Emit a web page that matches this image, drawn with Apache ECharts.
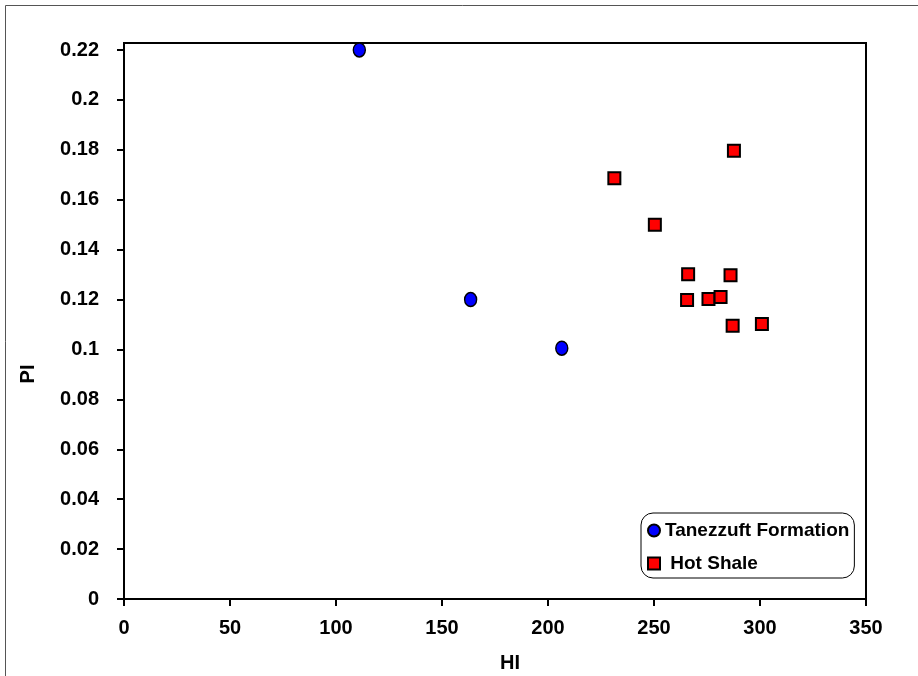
<!DOCTYPE html>
<html>
<head>
<meta charset="utf-8">
<script src="https://cdn.jsdelivr.net/npm/echarts@6/dist/echarts.min.js"></script>
<style>
  html, body { margin: 0; padding: 0; background: #fff; }
  #chart { width: 918px; height: 676px; }
</style>
</head>
<body>
<div id="chart"></div>
<script>
// Tanezzuft Formation (HI, PI)
const tanezzuftHI = [111, 163.5, 206.5]
const tanezzuftPI = [0.22, 0.12, 0.1005]
// Hot Shale (HI, PI)
const hotShaleHI = [287.7, 231.3, 250.4, 266.1, 286.1, 265.6, 275.7, 281.4, 287.1, 300.9]
const hotShalePI = [0.1796, 0.1686, 0.15, 0.1301, 0.1297, 0.1198, 0.1202, 0.121, 0.1095, 0.1102]
// y tick values
const yTicks = [0, 0.02, 0.04, 0.06, 0.08, 0.1, 0.12, 0.14, 0.16, 0.18, 0.2, 0.22]

const font = 'Liberation Sans, Arial, sans-serif'
const zip = (xs, ys) => xs.map((x, i) => [x, ys[i]])

const chart = echarts.init(document.getElementById('chart'))
chart.setOption({
    animation: false,
    grid: {
        left: 124, right: 52, top: 43, bottom: 77,
        show: true, borderColor: '#000', borderWidth: 2
    },
    xAxis: {
        type: 'value',
        min: 0, max: 350, interval: 50,
        splitLine: { show: false },
        axisLine: { lineStyle: { color: '#000', width: 2 } },
        axisTick: { length: 7, lineStyle: { color: '#000', width: 2 } },
        axisLabel: { margin: 19, color: '#000', fontSize: 20, fontWeight: 'bold', fontFamily: font }
    },
    yAxis: {
        type: 'value',
        min: 0, max: 0.2228,
        splitLine: { show: false },
        axisLine: { show: true, lineStyle: { color: '#000', width: 2 } },
        axisTick: { show: true, length: 7, customValues: yTicks, lineStyle: { color: '#000', width: 2 } },
        axisLabel: {
            margin: 25, color: '#000', fontSize: 20, fontWeight: 'bold', fontFamily: font,
            customValues: yTicks,
            formatter: v => String(+v.toFixed(2))
        }
    },
    legend: {
        orient: 'vertical',
        left: 641, top: 513,
        padding: [8, 5, 5, 6],
        itemGap: 14,
        itemWidth: 12, itemHeight: 12,
        borderColor: '#000', borderWidth: 1, borderRadius: 12,
        textStyle: { color: '#000', fontSize: 19, fontWeight: 'bold', fontFamily: font },
        formatter: name => name === 'Hot Shale' ? ' ' + name : name,
        data: [
            { name: 'Tanezzuft Formation', icon: 'circle' },
            { name: 'Hot Shale', icon: 'rect' }
        ]
    },
    graphic: [
        {
            type: 'rect', silent: true,
            shape: { x: 5.5, y: 5.5, width: 1000, height: 1000 },
            style: { fill: 'none', stroke: '#555', lineWidth: 1 }
        },
        {
            type: 'text', x: 28, y: 374, rotation: Math.PI / 2,
            style: { text: 'PI', fill: '#000', font: 'bold 20px ' + font, align: 'center', verticalAlign: 'middle' }
        },
        {
            type: 'text', x: 510, y: 663,
            style: { text: 'HI', fill: '#000', font: 'bold 20px ' + font, align: 'center', verticalAlign: 'middle' }
        }
    ],
    series: [
        {
            name: 'Tanezzuft Formation',
            type: 'scatter',
            symbol: 'circle',
            symbolSize: [12, 14],
            itemStyle: { color: '#0000ff', borderColor: '#000', borderWidth: 1.5, opacity: 1 },
            data: zip(tanezzuftHI, tanezzuftPI)
        },
        {
            name: 'Hot Shale',
            type: 'scatter',
            symbol: 'rect',
            symbolSize: 12,
            itemStyle: { color: '#ff0000', borderColor: '#000', borderWidth: 2, opacity: 1 },
            data: zip(hotShaleHI, hotShalePI)
        }
    ]
})
</script>
</body>
</html>
